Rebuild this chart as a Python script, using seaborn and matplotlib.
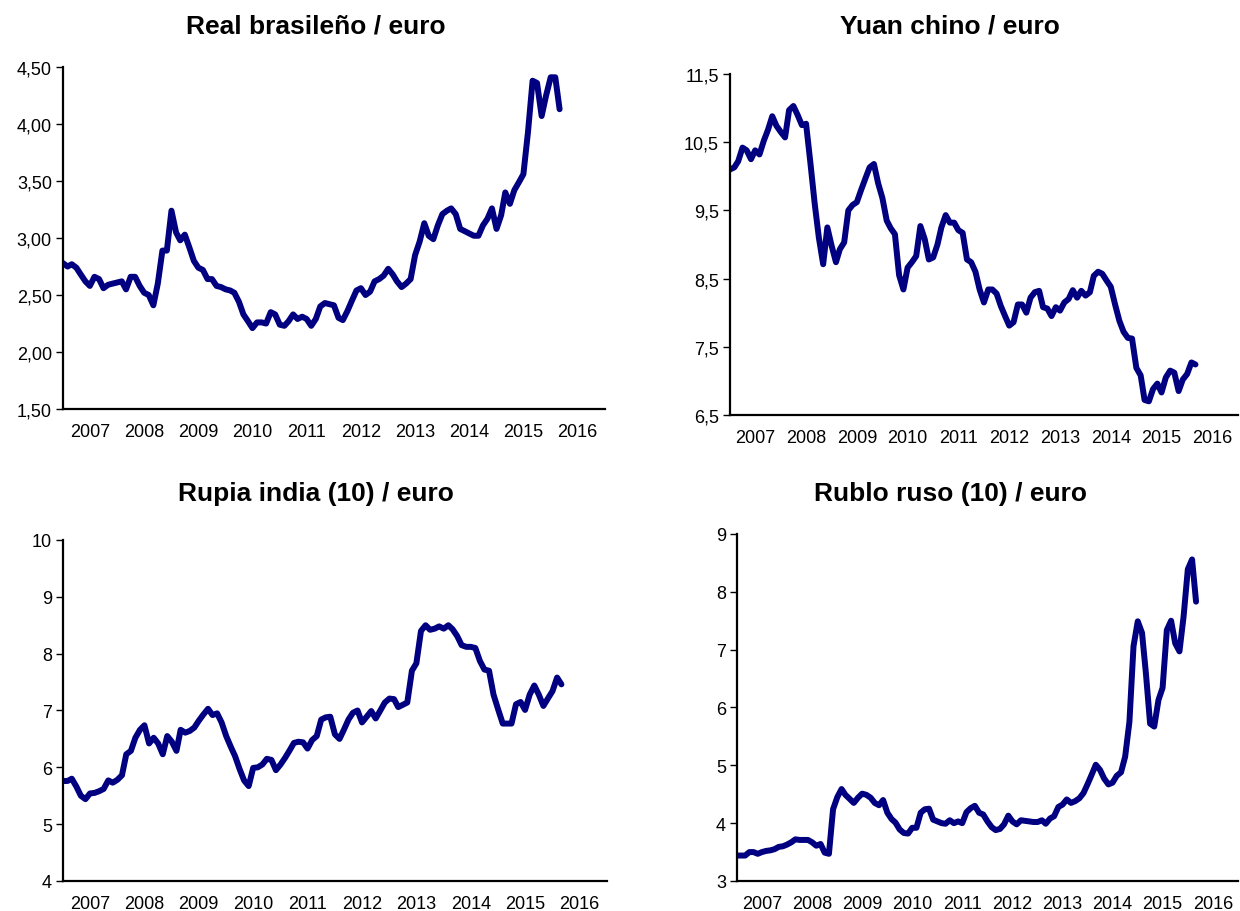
import matplotlib
matplotlib.use('Agg')
import matplotlib.pyplot as plt
import matplotlib.ticker as mticker
import numpy as np
import pandas as pd
import seaborn as sns

# Monthly values, Jan 2007 onwards
real_brasileno = [
    2.78, 2.75, 2.77, 2.74, 2.68, 2.62, 2.58, 2.66, 2.64, 2.56,
    2.59, 2.60, 2.61, 2.62, 2.55, 2.66, 2.66, 2.58, 2.52, 2.50,
    2.41, 2.60, 2.89, 2.89, 3.24, 3.05, 2.98, 3.03, 2.92, 2.80,
    2.74, 2.72, 2.64, 2.64, 2.58, 2.57, 2.55, 2.54, 2.52, 2.44,
    2.33, 2.27, 2.21, 2.26, 2.26, 2.25, 2.35, 2.33, 2.24, 2.23,
    2.27, 2.33, 2.29, 2.31, 2.29, 2.23, 2.29, 2.40, 2.43, 2.42,
    2.41, 2.30, 2.28, 2.36, 2.45, 2.54, 2.56, 2.50, 2.53, 2.62,
    2.64, 2.67, 2.73, 2.68, 2.62, 2.57, 2.60, 2.64, 2.85, 2.97,
    3.13, 3.02, 2.99, 3.11, 3.21, 3.24, 3.26, 3.21, 3.08, 3.06,
    3.04, 3.02, 3.02, 3.11, 3.17, 3.26, 3.08, 3.20, 3.40, 3.30,
    3.42, 3.49, 3.56, 3.93, 4.38, 4.36, 4.07, 4.25, 4.41, 4.41,
    4.13,
]

yuan_chino = [
    10.10, 10.13, 10.22, 10.42, 10.38, 10.25, 10.38, 10.32, 10.52, 10.68,
    10.88, 10.74, 10.65, 10.57, 10.97, 11.03, 10.90, 10.75, 10.77, 10.20,
    9.60, 9.10, 8.71, 9.25, 8.98, 8.74, 8.93, 9.03, 9.50, 9.58,
    9.62, 9.80, 9.97, 10.13, 10.18, 9.90, 9.68, 9.35, 9.24, 9.15,
    8.55, 8.34, 8.66, 8.74, 8.83, 9.27, 9.08, 8.78, 8.81, 9.00,
    9.25, 9.43, 9.32, 9.32, 9.21, 9.17, 8.78, 8.74, 8.60, 8.34,
    8.15, 8.34, 8.34, 8.28, 8.10, 7.95, 7.81, 7.86, 8.12, 8.12,
    8.00, 8.22, 8.30, 8.32, 8.08, 8.06, 7.95, 8.08, 8.03, 8.15,
    8.20, 8.33, 8.22, 8.32, 8.25, 8.30, 8.54, 8.60, 8.57, 8.47,
    8.38, 8.12, 7.88, 7.72, 7.63, 7.62, 7.19, 7.08, 6.72, 6.70,
    6.88, 6.96, 6.83, 7.05, 7.15, 7.12, 6.85, 7.02, 7.10, 7.27,
    7.24,
]

rupia_india = [
    5.76, 5.76, 5.80, 5.66, 5.50, 5.44, 5.54, 5.55, 5.58, 5.62,
    5.77, 5.73, 5.78, 5.86, 6.23, 6.29, 6.52, 6.66, 6.74, 6.42,
    6.52, 6.42, 6.23, 6.55, 6.45, 6.29, 6.66, 6.61, 6.64, 6.70,
    6.82, 6.93, 7.03, 6.92, 6.95, 6.79, 6.55, 6.36, 6.20, 5.97,
    5.77, 5.67, 5.99, 6.00, 6.05, 6.15, 6.13, 5.95, 6.05, 6.17,
    6.29, 6.43, 6.45, 6.44, 6.33, 6.48, 6.55, 6.84, 6.88, 6.89,
    6.58, 6.50, 6.66, 6.84, 6.96, 7.00, 6.79, 6.89, 6.99, 6.86,
    7.00, 7.14, 7.21, 7.20, 7.06, 7.10, 7.14, 7.70, 7.83, 8.40,
    8.50, 8.42, 8.44, 8.48, 8.44, 8.50, 8.43, 8.31, 8.15, 8.12,
    8.12, 8.10, 7.87, 7.72, 7.70, 7.28, 7.02, 6.77, 6.77, 6.77,
    7.11, 7.15, 7.01, 7.28, 7.44, 7.28, 7.08, 7.21, 7.34, 7.58,
    7.46,
]

rublo_ruso = [
    3.44, 3.44, 3.44, 3.50, 3.50, 3.47, 3.50, 3.52, 3.53, 3.55,
    3.59, 3.60, 3.63, 3.67, 3.72, 3.71, 3.71, 3.71, 3.67, 3.61,
    3.64, 3.49, 3.47, 4.24, 4.45, 4.59, 4.49, 4.42, 4.35, 4.44,
    4.51, 4.49, 4.44, 4.35, 4.31, 4.40, 4.18, 4.07, 4.01, 3.89,
    3.83, 3.82, 3.92, 3.92, 4.18, 4.24, 4.25, 4.06, 4.03, 4.00,
    3.99, 4.05, 4.00, 4.03, 4.00, 4.19, 4.26, 4.30, 4.18, 4.15,
    4.03, 3.93, 3.88, 3.90, 3.98, 4.13, 4.03, 3.98, 4.05, 4.04,
    4.03, 4.02, 4.02, 4.05, 3.99, 4.08, 4.12, 4.28, 4.32, 4.41,
    4.35, 4.38, 4.43, 4.52, 4.68, 4.85, 5.01, 4.92, 4.77, 4.67,
    4.70, 4.82, 4.88, 5.15, 5.75, 7.06, 7.49, 7.29, 6.60, 5.72,
    5.67, 6.13, 6.34, 7.34, 7.50, 7.11, 6.97, 7.57, 8.39, 8.56,
    7.83,
]

years = list(range(2007, 2017))

# title, series, y range, y step, label format
panels = [
    ('Real brasileño / euro', real_brasileno, (1.5, 4.5), 0.5, '%.2f'),
    ('Yuan chino / euro', yuan_chino, (6.5, 11.5), 1.0, '%.1f'),
    ('Rupia india (10) / euro', rupia_india, (4, 10), 1, '%d'),
    ('Rublo ruso (10) / euro', rublo_ruso, (3, 9), 1, '%d'),
]

# axes boxes in figure fractions (left, bottom, width, height)
boxes = [
    [0.0508, 0.5504, 0.4371, 0.3750],
    [0.5887, 0.5439, 0.4097, 0.3739],
    [0.0508, 0.0329, 0.4387, 0.3739],
    [0.5944, 0.0329, 0.4040, 0.3805],
]
title_pos = [(316, 27), (950, 27), (316, 494), (951, 494)]

sns.set_style('white')
plt.rcParams['font.family'] = ['Liberation Sans', 'DejaVu Sans']

fig = plt.figure(figsize=(12.4, 9.12), dpi=100)

for (title, values, ylim, step, fmt), box, (tx, ty) in zip(panels, boxes, title_pos):
    ax = fig.add_axes(box)
    df = pd.DataFrame({
        'fecha': pd.date_range('2007-01-01', periods=len(values), freq='MS'),
        'valor': values,
    })
    sns.lineplot(data=df, x='fecha', y='valor', ax=ax, color='#000080',
                 linewidth=4.3, solid_capstyle='round', solid_joinstyle='round')

    ax.set_xlim(pd.Timestamp('2007-01-01'), pd.Timestamp('2017-01-01'))
    ax.set_ylim(*ylim)
    ax.set_xlabel('')
    ax.set_ylabel('')

    # year labels centred in each year, no tick marks
    ax.set_xticks([pd.Timestamp(f'{y}-07-01') for y in years])
    ax.set_xticklabels([str(y) for y in years])
    ax.tick_params(axis='x', length=0, pad=10, labelsize=13, colors='black')

    yticks = np.arange(ylim[0], ylim[1] + step / 2, step)
    ax.set_yticks(yticks)
    ax.set_yticklabels([(fmt % v).replace('.', ',') for v in yticks])
    ax.tick_params(axis='y', length=5, width=1, pad=3, labelsize=13,
                   direction='out', left=True, colors='black')

    sns.despine(ax=ax)
    for side in ['left', 'bottom']:
        ax.spines[side].set_color('black')
        ax.spines[side].set_linewidth(1.6)

    fig.text(tx / 1240, 1 - ty / 912, title, ha='center', va='center',
             fontsize=19, fontweight='bold', color='black')

fig.savefig('out.png', dpi=100)
